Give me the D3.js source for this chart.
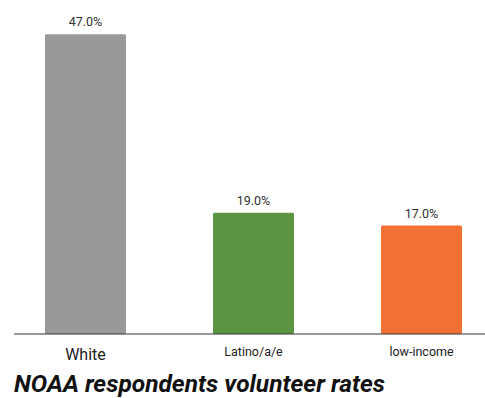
<!DOCTYPE html>
<html><head><meta charset="utf-8">
<script src="https://cdn.jsdelivr.net/npm/d3@7"></script>
<style>body{margin:0;background:#fff;}svg{display:block;font-family:Roboto, sans-serif;}</style>
</head><body>
<svg id="c" width="485" height="398"></svg>
<script>
const categories = ["White", "Latino/a/e", "low-income"];
const values = [47.0, 19.0, 17.0];
const colors = ["#999999", "#5b9541", "#f37034"];
const labelSizes = [16, 12.5, 12.5];
const title = "NOAA respondents volunteer rates";

const svg = d3.select("#c");
const x = d3.scaleBand().domain(categories).range([14, 493]).paddingInner(0.518).paddingOuter(0.1845);
const y = d3.scaleLinear().domain([0, 50]).range([334, 15]);

svg.selectAll("rect.bar").data(values).enter().append("rect")
  .attr("class", "bar")
  .attr("x", (d, i) => x(categories[i]))
  .attr("y", d => y(d))
  .attr("width", x.bandwidth())
  .attr("height", d => y(0) - y(d))
  .attr("rx", 1.5)
  .attr("fill", (d, i) => colors[i]);

svg.selectAll("text.val").data(values).enter().append("text")
  .attr("x", (d, i) => x(categories[i]) + x.bandwidth() / 2)
  .attr("y", d => y(d) - 8)
  .attr("text-anchor", "middle")
  .attr("font-size", 12.5)
  .attr("fill", "#333")
  .text(d => d.toFixed(1) + "%");

svg.append("line").attr("x1", 14).attr("x2", 485).attr("y1", y(0)).attr("y2", y(0))
  .attr("stroke", "#333").attr("stroke-width", 1.2);

svg.selectAll("text.cat").data(categories).enter().append("text")
  .attr("x", d => x(d) + x.bandwidth() / 2)
  .attr("y", (d, i) => i === 0 ? 360 : 355.5)
  .attr("text-anchor", "middle")
  .attr("font-size", (d, i) => labelSizes[i])
  .attr("fill", "#222")
  .text(d => d);

svg.append("text").attr("x", 14).attr("y", 392)
  .attr("font-size", 24.5).attr("font-weight", "bold").attr("font-style", "italic")
  .attr("fill", "#111").text(title);
</script>
</body></html>
